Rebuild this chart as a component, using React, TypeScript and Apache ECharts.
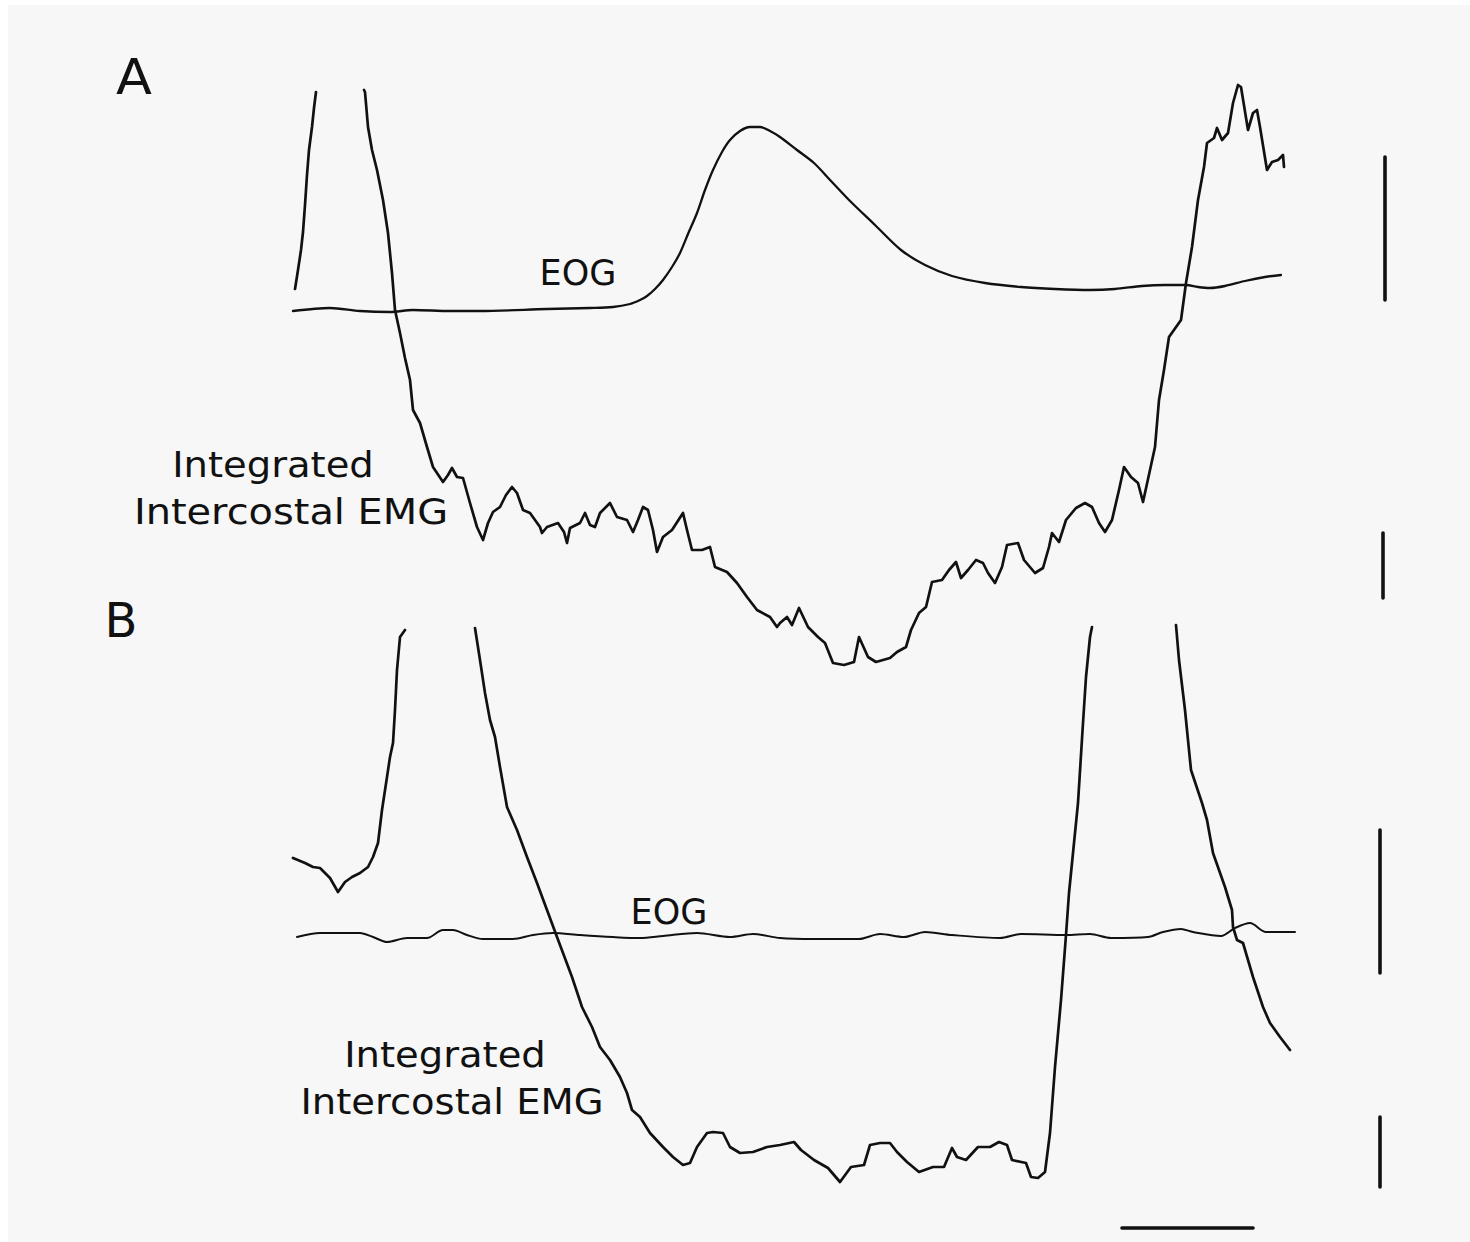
import React, { useEffect, useRef } from "react";
import * as echarts from "echarts";

// Figure frame in plot units (x to the right, y downward)
const FRAME_W = 1470;
const FRAME_H = 1242;

// Panel A – integrated intercostal EMG, left stub before the pen goes off scale
const emgA1: number[][] = [
  [295, 289], [298, 270], [301, 250], [303, 232], [305, 205], [307, 175], [309, 150], [312, 127], [314, 108], [316, 92],
];

// Panel A – integrated intercostal EMG, main sweep
const emgA2: number[][] = [
  [364, 90], [365, 92], [368, 127], [372, 150], [377, 170], [383, 200], [388, 233], [392, 273], [395, 310], [400, 333],
  [405, 358], [410, 380], [413, 410], [420, 423], [427, 447], [433, 467], [443, 482], [448, 475], [452, 468], [457, 477],
  [463, 478], [470, 503], [477, 527], [483, 540], [488, 523], [493, 512], [500, 507], [506, 495], [512, 487], [517, 493],
  [523, 510], [530, 513], [540, 527], [542, 533], [547, 527], [558, 523], [564, 532], [567, 543], [570, 528], [580, 523],
  [585, 513], [590, 525], [595, 527], [600, 513], [610, 503], [617, 517], [627, 520], [633, 532], [638, 520], [643, 507],
  [648, 510], [653, 530], [657, 552], [663, 537], [672, 530], [683, 513], [687, 530], [692, 550], [702, 550], [710, 547],
  [715, 567], [727, 572], [737, 583], [747, 597], [757, 610], [770, 617], [777, 627], [780, 623], [787, 617], [792, 625],
  [799, 608], [808, 627], [818, 637], [825, 643], [833, 663], [844, 665], [854, 662], [859, 637], [868, 657], [876, 662],
  [890, 658], [897, 652], [906, 647], [911, 630], [919, 613], [926, 607], [932, 582], [942, 580], [949, 570], [956, 562],
  [961, 578], [968, 570], [976, 560], [983, 563], [988, 573], [995, 583], [1002, 567], [1007, 545], [1018, 543], [1024, 560],
  [1035, 573], [1043, 568], [1049, 547], [1052, 533], [1059, 542], [1066, 520], [1076, 508], [1085, 503], [1092, 507], [1099, 523],
  [1105, 532], [1112, 520], [1119, 490], [1124, 467], [1131, 477], [1138, 483], [1143, 502], [1150, 470], [1155, 447], [1159, 400],
  [1164, 370], [1169, 337], [1181, 320], [1186, 283], [1192, 247], [1198, 200], [1204, 167], [1207, 143], [1214, 138], [1217, 128],
  [1222, 140], [1228, 133], [1233, 103], [1238, 85], [1241, 87], [1248, 130], [1253, 113], [1257, 110], [1260, 127], [1267, 170],
  [1272, 162], [1278, 160], [1283, 155], [1284, 167],
];

// Panel A – EOG
const eogA: number[][] = [
  [293, 311], [330, 308], [360, 311], [390, 312], [413, 310], [450, 311], [480, 311], [547, 309], [590, 308], [613, 307],
  [630, 304], [640, 300], [647, 296], [655, 289], [663, 280], [672, 267], [680, 253], [688, 234], [697, 213], [705, 190],
  [713, 170], [722, 152], [730, 140], [740, 131], [750, 127], [760, 127], [770, 131], [780, 137], [797, 150], [814, 163],
  [831, 181], [849, 200], [875, 225], [901, 250], [925, 265], [952, 276], [985, 283], [1021, 287], [1055, 289], [1090, 290],
  [1115, 289], [1142, 286], [1165, 285], [1186, 285], [1198, 287], [1210, 288], [1225, 286], [1245, 281], [1265, 277], [1281, 275],
];

// Panel B – integrated intercostal EMG, left stub
const emgB1: number[][] = [
  [293, 858], [305, 863], [313, 867], [320, 868], [325, 873], [330, 878], [338, 892], [345, 882], [352, 877], [360, 873],
  [368, 867], [373, 857], [378, 843], [382, 810], [387, 777], [390, 757], [393, 743], [395, 710], [397, 670], [400, 637], [405, 630],
];

// Panel B – integrated intercostal EMG, main sweep
const emgB2: number[][] = [
  [475, 628], [480, 660], [485, 693], [490, 720], [495, 737], [500, 767], [507, 807], [517, 830], [527, 857], [537, 883],
  [547, 910], [557, 937], [563, 953], [572, 977], [582, 1007], [592, 1027], [600, 1047], [610, 1060], [620, 1077], [627, 1093],
  [632, 1110], [640, 1117], [650, 1133], [663, 1147], [673, 1157], [683, 1165], [690, 1163], [697, 1147], [707, 1133], [713, 1132],
  [723, 1133], [730, 1147], [740, 1153], [753, 1152], [767, 1147], [780, 1145], [794, 1142], [801, 1150], [814, 1160], [828, 1168],
  [840, 1182], [851, 1167], [864, 1165], [870, 1145], [880, 1143], [890, 1143], [897, 1152], [907, 1162], [919, 1172], [933, 1167],
  [944, 1167], [952, 1148], [957, 1157], [966, 1160], [978, 1147], [990, 1147], [999, 1142], [1007, 1145], [1012, 1160], [1026, 1163],
  [1031, 1177], [1038, 1178], [1045, 1172], [1050, 1133], [1055, 1067], [1061, 1000], [1066, 935], [1069, 893], [1074, 843], [1078, 803],
  [1083, 723], [1086, 677], [1090, 637], [1092, 627],
];

// Panel B – integrated intercostal EMG, right stub
const emgB3: number[][] = [
  [1176, 625], [1179, 660], [1185, 710], [1191, 770], [1202, 803], [1207, 820], [1213, 853], [1225, 887], [1232, 910], [1233, 927],
  [1237, 940], [1243, 943], [1253, 977], [1263, 1007], [1270, 1023], [1280, 1037], [1290, 1050],
];

// Panel B – EOG
const eogB: number[][] = [
  [297, 937], [320, 933], [360, 933], [373, 937], [387, 942], [407, 938], [427, 938], [443, 930], [453, 930], [467, 935],
  [483, 939], [513, 939], [533, 935], [553, 933], [580, 935], [613, 937], [640, 938], [663, 936], [697, 933], [730, 937],
  [753, 934], [780, 938], [814, 939], [859, 939], [880, 934], [904, 937], [925, 932], [952, 935], [1000, 938], [1021, 934],
  [1066, 935], [1090, 934], [1111, 938], [1148, 937], [1163, 932], [1181, 929], [1193, 932], [1221, 936], [1235, 928], [1250, 923],
  [1266, 932], [1295, 932],
];

// Calibration bars
const calEogA: number[][] = [[1385, 157], [1385, 300]];
const calEmgA: number[][] = [[1383, 533], [1383, 598]];
const calEogB: number[][] = [[1380, 830], [1380, 973]];
const calEmgB: number[][] = [[1380, 1117], [1380, 1187]];
const calTime: number[][] = [[1122, 1228], [1253, 1228]];

const INK = "#111111";
const FONT = "DejaVu Sans";

function trace(name: string, data: number[][], width: number, smooth: number | boolean = false) {
  return {
    name,
    type: "line",
    data,
    smooth,
    showSymbol: false,
    symbol: "none",
    silent: true,
    lineStyle: { color: INK, width, cap: "round", join: "round" },
  };
}

function label(text: string, x: number, y: number, size: number, sx = 1) {
  return {
    type: "text",
    x,
    y,
    scaleX: sx,
    silent: true,
    style: {
      text,
      fill: INK,
      font: `${size}px "${FONT}"`,
      align: "center",
      verticalAlign: "middle",
    },
  };
}

export default function App() {
  const ref = useRef<HTMLDivElement>(null);

  useEffect(() => {
    if (!ref.current) return;
    const chart = echarts.init(ref.current, undefined, { renderer: "svg" });
    chart.setOption({
      animation: false,
      backgroundColor: "#f7f7f7",
      grid: { left: 0, right: 0, top: 0, bottom: 0 },
      xAxis: { type: "value", min: 0, max: FRAME_W, show: false },
      yAxis: { type: "value", min: 0, max: FRAME_H, inverse: true, show: false },
      series: [
        trace("EMG A left", emgA1, 2.7),
        trace("EMG A", emgA2, 2.7),
        trace("EOG A", eogA, 2.3, 0.3),
        trace("EMG B left", emgB1, 2.7),
        trace("EMG B", emgB2, 2.7),
        trace("EMG B right", emgB3, 2.7),
        trace("EOG B", eogB, 2.0, 0.3),
        trace("cal EOG A", calEogA, 3.6),
        trace("cal EMG A", calEmgA, 3.6),
        trace("cal EOG B", calEogB, 3.6),
        trace("cal EMG B", calEmgB, 3.6),
        trace("cal time", calTime, 3.6),
      ],
      graphic: [
        { type: "rect", shape: { x: 0, y: 0, width: 8, height: FRAME_H }, style: { fill: "#ffffff" }, silent: true },
        { type: "rect", shape: { x: 0, y: 0, width: FRAME_W, height: 5 }, style: { fill: "#ffffff" }, silent: true },
        label("A", 134, 76, 50, 1.05),
        label("B", 121, 620, 48, 1.0),
        label("EOG", 578, 273, 35, 1.0),
        label("Integrated", 273, 465, 35, 1.1),
        label("Intercostal EMG", 291, 512, 35, 1.14),
        label("EOG", 669, 912, 35, 1.0),
        label("Integrated", 445, 1055, 35, 1.1),
        label("Intercostal EMG", 452, 1102, 35, 1.1),
      ],
    });
    return () => chart.dispose();
  }, []);

  return (
    <div
      ref={ref}
      style={{ position: "absolute", left: 0, top: 0, width: FRAME_W, height: FRAME_H }}
    />
  );
}
